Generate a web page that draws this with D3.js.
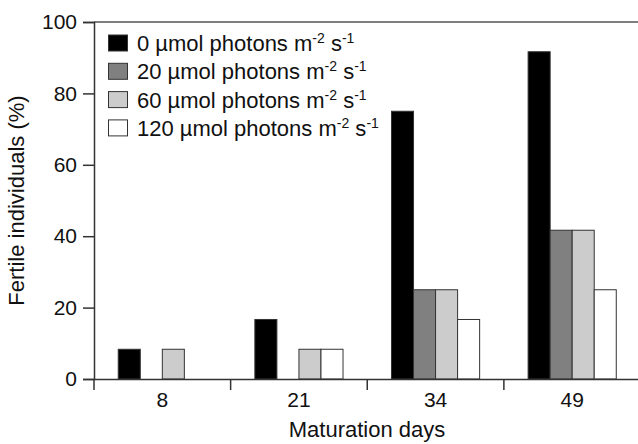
<!DOCTYPE html>
<head>
  <meta charset="utf-8">
  <script src="https://d3js.org/d3.v7.min.js"></script>
  <style>
    body { margin: 0; background: #fff; }
    svg { display: block; font-family: Arial, "Liberation Sans", sans-serif; }
  </style>
</head>
<body>
  <svg width="638" height="444"></svg>
  <script>
    // data
    var days = ["8", "21", "34", "49"];
    var series = ["0", "20", "60", "120"];
    var dark0 = [8.33, 16.67, 75, 91.67];
    var gray20 = [0, 0, 25, 41.67];
    var light60 = [8.33, 8.33, 25, 41.67];
    var white120 = [0, 8.33, 16.67, 25];
    var yTicks = [0, 20, 40, 60, 80, 100];
    var colors = ["#000000", "#808080", "#cccccc", "#ffffff"];
    var values = [dark0, gray20, light60, white120];

    var margin = {top: 22, right: -2, bottom: 65, left: 94};
    var width = 638, height = 444;
    var axisColor = "#333";

    var svg = d3.select("svg");

    // scales
    var x0 = d3.scaleBand().domain(days).range([margin.left, 640.5]).padding(0);
    var x1 = d3.scaleBand().domain(series).range([0, x0.bandwidth()]).paddingInner(0).paddingOuter(1.1);
    var y = d3.scaleLinear().domain([0, 100]).range([379, margin.top]);

    // bars
    var rows = [];
    days.forEach(function(d, i) {
      series.forEach(function(s, j) {
        if (values[j][i] > 0) rows.push({day: d, s: s, v: values[j][i], c: colors[j]});
      });
    });
    svg.append("g").selectAll("rect").data(rows).enter().append("rect")
      .attr("x", function(d) { return x0(d.day) + x1(d.s); })
      .attr("y", function(d) { return y(d.v); })
      .attr("width", x1.bandwidth())
      .attr("height", function(d) { return y(0) - y(d.v); })
      .attr("fill", function(d) { return d.c; })
      .attr("stroke", axisColor)
      .attr("stroke-width", 1);

    // top frame line
    svg.append("line")
      .attr("x1", margin.left).attr("x2", width)
      .attr("y1", y(100)).attr("y2", y(100))
      .attr("stroke", "#555").attr("stroke-width", 1.5);

    // y axis
    var yAxis = d3.axisLeft(y).tickValues(yTicks).tickSize(11).tickPadding(6);
    var gy = svg.append("g").attr("transform", "translate(" + margin.left + ",0)").call(yAxis);
    gy.select(".domain").attr("stroke", axisColor).attr("stroke-width", 1.5);
    gy.selectAll(".tick line").attr("stroke", axisColor).attr("stroke-width", 1.5);
    gy.selectAll("text").attr("font-size", 21).attr("fill", "#111").attr("font-family", "Arial, 'Liberation Sans', sans-serif");

    // x axis
    var xAxis = d3.axisBottom(x0).tickSize(0).tickPadding(13);
    var gx = svg.append("g").attr("transform", "translate(0," + y(0) + ")").call(xAxis);
    gx.select(".domain").attr("stroke", axisColor).attr("stroke-width", 1.5);
    gx.selectAll("text").attr("font-size", 21).attr("fill", "#111").attr("font-family", "Arial, 'Liberation Sans', sans-serif");
    gx.selectAll(".sep").data(days).enter().append("line")
      .attr("x1", function(d) { return x0(d); }).attr("x2", function(d) { return x0(d); })
      .attr("y1", 0).attr("y2", 11)
      .attr("stroke", axisColor).attr("stroke-width", 1.5);

    // axis titles
    svg.append("text")
      .attr("x", (margin.left + 640) / 2).attr("y", 437)
      .attr("text-anchor", "middle").attr("font-size", 22).attr("fill", "#111")
      .text("Maturation days");
    svg.append("text")
      .attr("transform", "translate(24," + ((y(0) + y(100)) / 2) + ") rotate(-90)")
      .attr("text-anchor", "middle").attr("font-size", 22).attr("fill", "#111")
      .text("Fertile individuals (%)");

    // legend
    var leg = svg.append("g").attr("transform", "translate(108,35)");
    series.forEach(function(s, i) {
      var g = leg.append("g").attr("transform", "translate(0," + (i * 28.3) + ")");
      g.append("rect").attr("x", 0.5).attr("y", 0).attr("width", 19).attr("height", 16)
        .attr("fill", colors[i]).attr("stroke", axisColor).attr("stroke-width", 1);
      var t = g.append("text").attr("x", 29).attr("y", 16).attr("font-size", 22).attr("fill", "#111");
      t.append("tspan").text(s + " \u00b5mol photons m");
      t.append("tspan").attr("dy", -8).attr("font-size", 14).text("-2");
      t.append("tspan").attr("dy", 8).text(" s");
      t.append("tspan").attr("dy", -8).attr("font-size", 14).text("-1");
    });
  </script>
</body>
</html>
